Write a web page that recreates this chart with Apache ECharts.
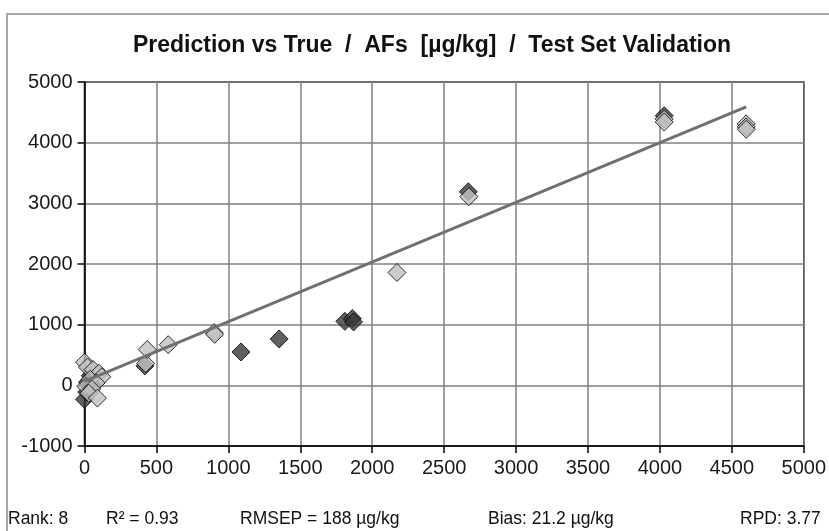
<!DOCTYPE html>
<html>
<head>
<meta charset="utf-8">
<script src="https://cdn.jsdelivr.net/npm/echarts@6/dist/echarts.min.js"></script>
<style>
html,body{margin:0;padding:0;background:#fff;}
#c{width:829px;height:531px;}
</style>
</head>
<body>
<div id="c"></div>
<script>
// Light grey diamonds (true, predicted)
const lightPoints = [[0,380],[20,300],[60,260],[100,200],[120,140],[40,100],[80,40],[10,-20],[50,-60],[30,-130],[90,-210],[425,360],[436,590],[582,670],[900,870],[905,840],[2172,1860],[2672,3110],[4030,4390],[4030,4340],[4600,4310],[4600,4260],[4600,4220]];
// Dark diamonds (true, predicted)
const darkPoints = [[0,-230],[20,50],[40,160],[60,-10],[15,-110],[420,320],[1088,550],[1353,765],[1810,1055],[1862,1100],[1870,1045],[2668,3190],[4030,4445]];
// Fit line end points
const fitLine = [[0,65],[4600,4590]];
const xTicks = {min:0, max:5000, step:500};
const yTicks = {min:-1000, max:5000, step:1000};
const titleText = 'Prediction vs True  /  AFs  [µg/kg]  /  Test Set Validation';
const statsTexts = ['Rank: 8', 'R² = 0.93', 'RMSEP = 188 µg/kg', 'Bias: 21.2 µg/kg', 'RPD: 3.77'];
const statsX = [8, 106, 240, 488, 740];

const FONT = '"Liberation Sans",Arial,sans-serif';
const chart = echarts.init(document.getElementById('c'), null, {renderer:'canvas'});

const graphics = [
  {type:'rect', shape:{x:7, y:14, width:900, height:600}, style:{fill:'none', stroke:'#a8a8a8', lineWidth:2}, z:0},
  {type:'text', x:432, y:46, style:{text:titleText, font:'bold 23px ' + FONT, fill:'#111', textAlign:'center', textVerticalAlign:'middle'}, z:10}
];
statsTexts.forEach((t,i)=>{
  graphics.push({type:'text', x:statsX[i], y:519, style:{text:t, font:'17.5px ' + FONT, fill:'#111', textAlign:'left', textVerticalAlign:'middle'}, z:10});
});

const plainNum = v => String(v);

chart.setOption({
  animation:false,
  backgroundColor:'#fff',
  grid:{left:84.5, right:24.5, top:82, bottom:85, show:true, borderColor:'#000', borderWidth:1.5, backgroundColor:'transparent'},
  graphic:graphics,
  xAxis:{
    type:'value', min:xTicks.min, max:xTicks.max, interval:xTicks.step,
    axisLine:{show:true, onZero:false, lineStyle:{color:'#000', width:1.5}},
    axisTick:{show:true, length:7, lineStyle:{color:'#000', width:1.5}},
    axisLabel:{margin:12, color:'#1a1a1a', fontSize:20, fontFamily:FONT, formatter:plainNum},
    splitLine:{show:true, lineStyle:{color:'#808080', width:1.5}}
  },
  yAxis:{
    type:'value', min:yTicks.min, max:yTicks.max, interval:yTicks.step,
    axisLine:{show:true, onZero:false, lineStyle:{color:'#000', width:1.5}},
    axisTick:{show:true, length:7, lineStyle:{color:'#000', width:1.5}},
    axisLabel:{margin:12, color:'#1a1a1a', fontSize:20, fontFamily:FONT, formatter:plainNum},
    splitLine:{show:true, lineStyle:{color:'#808080', width:1.5}}
  },
  series:[
    {type:'scatter', data:darkPoints, symbol:'diamond', symbolSize:18, itemStyle:{color:'#383838', borderColor:'#000', borderWidth:1}, z:3},
    {type:'scatter', data:lightPoints, symbol:'diamond', symbolSize:18, itemStyle:{color:'#c0c0c0', borderColor:'#000', borderWidth:1}, z:4},
    {type:'line', data:fitLine, symbol:'none', lineStyle:{color:'#707070', width:3}, z:5}
  ]
});
</script>
</body>
</html>
